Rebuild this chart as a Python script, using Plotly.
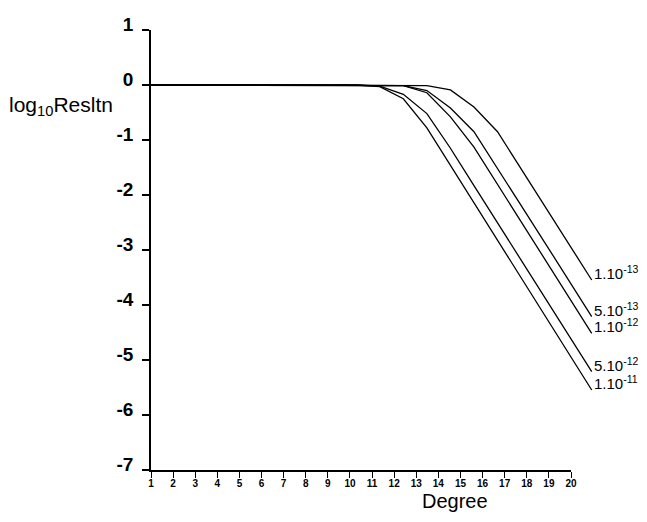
import plotly.graph_objects as go

# Degree (curve sample points)
degree = list(range(1, 21))

# log10 resolution for each tolerance
res_1e13 = [0, 0, 0, 0, 0, 0, 0, 0, 0, 0, 0, 0, -0.01, -0.09, -0.40, -0.85, -1.52, -2.19, -2.87, -3.545]
res_5e13 = [0, 0, 0, 0, 0, 0, 0, 0, 0, 0, 0, -0.01, -0.10, -0.42, -0.85, -1.51, -2.19, -2.86, -3.54, -4.21]
res_1e12 = [0, 0, 0, 0, 0, 0, 0, 0, 0, 0, 0, -0.01, -0.14, -0.58, -1.13, -1.81, -2.48, -3.16, -3.84, -4.515]
res_5e12 = [0, 0, 0, 0, 0, 0, 0, 0, 0, 0, -0.02, -0.17, -0.52, -1.15, -1.83, -2.51, -3.18, -3.86, -4.53, -5.21]
res_1e11 = [0, 0, 0, 0, 0, 0, 0, 0, 0, 0, -0.03, -0.25, -0.78, -1.46, -2.14, -2.82, -3.50, -4.18, -4.86, -5.545]

series = [
    ("1.10<sup>-13</sup>", res_1e13),
    ("5.10<sup>-13</sup>", res_5e13),
    ("1.10<sup>-12</sup>", res_1e12),
    ("5.10<sup>-12</sup>", res_5e12),
    ("1.10<sup>-11</sup>", res_1e11),
]

# Axis ticks
x_ticks = list(range(1, 21))
x_ticktext = [str(v) for v in x_ticks]
y_ticks = [1, 0, -1, -2, -3, -4, -5, -6, -7]
y_ticktext = ["1", "0", "-1", "-2", "-3", "-4", "-5", "-6", "-7"]

W, H = 647, 522
ML, MR, MT, MB = 140, 47, 30, 52
PW = W - ML - MR  # 460
PH = H - MT - MB  # 440
FONT = "Liberation Sans, Arial, sans-serif"

fig = go.Figure()

# empty trace so the tick axes (x, y) get their subplot drawn
fig.add_trace(go.Scatter(x=[], y=[], xaxis="x", yaxis="y", mode="lines",
                         showlegend=False, hoverinfo="skip"))

for name, vals in series:
    fig.add_trace(go.Scatter(
        x=degree, y=vals, mode="lines", name=name,
        xaxis="x2", yaxis="y",
        line=dict(color="black", width=1.3),
        showlegend=False, hoverinfo="skip",
    ))

annotations = []
for name, vals in series:
    annotations.append(dict(
        x=degree[-1], y=vals[-1], xref="x2", yref="y",
        text=name, showarrow=False, xanchor="left", yanchor="bottom",
        xshift=0, yshift=-4,
        font=dict(family=FONT, size=15, color="black"),
    ))

annotations.append(dict(
    x=(7 - ML) / PW, y=(470 - 106) / PH, xref="paper", yref="paper",
    text="log<sub>10</sub>Resltn", showarrow=False, xanchor="left", yanchor="middle",
    font=dict(family=FONT, size=21, color="black"),
))

annotations.append(dict(
    x=(455 - ML) / PW, y=(470 - 501) / PH, xref="paper", yref="paper",
    text="Degree", showarrow=False, xanchor="center", yanchor="middle",
    font=dict(family=FONT, size=20, color="black"),
))

fig.update_layout(
    width=W, height=H,
    margin=dict(l=ML, r=MR, t=MT, b=MB, pad=0),
    paper_bgcolor="white", plot_bgcolor="rgba(0,0,0,0)",
    xaxis=dict(
        domain=[(151 - ML) / PW, (571 - ML) / PW], range=[1, 20], anchor="y",
        tickvals=x_ticks, ticktext=x_ticktext,
        ticks="outside", ticklen=6, tickwidth=1.2, tickcolor="black",
        showline=True, linecolor="black", linewidth=1.5,
        showgrid=False, zeroline=False, ticklabelstandoff=-3,
        tickfont=dict(family=FONT, size=10, color="black", weight="bold"),
        fixedrange=True,
    ),
    xaxis2=dict(
        domain=[0, 1], range=[0.817, 20.352], anchor="y",
        visible=False, showgrid=False, zeroline=False, fixedrange=True,
    ),
    yaxis=dict(
        domain=[0, 1], range=[-7, 1], anchor="x",
        tickvals=y_ticks, ticktext=y_ticktext,
        ticks="outside", ticklen=7, tickwidth=1.5, tickcolor="black",
        showline=True, linecolor="black", linewidth=1.5,
        showgrid=False, zeroline=False, ticklabelstandoff=5, ticklabelshift=-6,
        tickfont=dict(family=FONT, size=19, color="black", weight="bold"),
        fixedrange=True,
    ),
    annotations=annotations,
    showlegend=False,
)

fig.write_html("out.html", config={"displayModeBar": False},
               post_script="document.body.style.margin='0px';document.body.style.overflow='hidden';")
